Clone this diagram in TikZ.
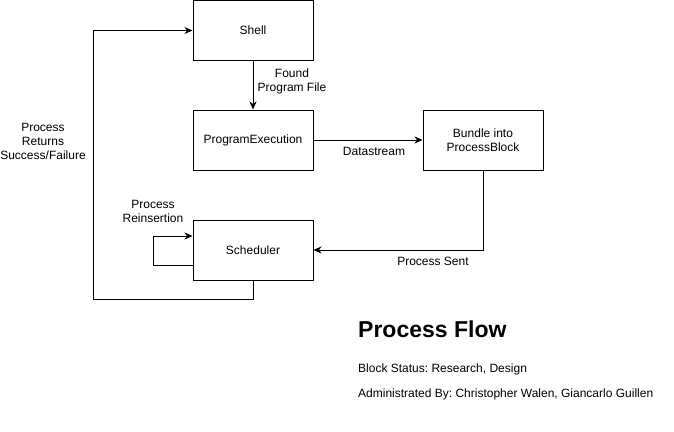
\documentclass[tikz,border=0pt]{standalone}
\usepackage{fontspec}
\setmainfont{Liberation Sans}
\usetikzlibrary{arrows.meta}
\frenchspacing
\begin{document}
\begin{tikzpicture}[x=1pt,y=-1pt,
  font=\fontsize{12}{14}\selectfont,
  blk/.style={draw,line width=1pt,minimum width=120pt,minimum height=60pt,inner sep=0pt,align=center},
  arr/.style={draw,line width=1pt,-{Stealth[length=8pt,width=7pt,inset=2.5pt]}},
  lbl/.style={align=center,inner sep=0pt}]
\useasboundingbox[fill=white] (0,0) rectangle (674,431);
\node[blk] (shell) at (253,30.5) {Shell};
\node[blk] (pe) at (253,140) {ProgramExecution};
\node[blk] (sch) at (253,250) {Scheduler};
\node[blk] (bun) at (483,140) {Bundle into\\ProcessBlock};
\coordinate (l1) at (153,265);
\coordinate (l2) at (153,236);
\coordinate (r1) at (93,299);
\coordinate (r2) at (93,30.5);
\draw[arr] (shell) -- (pe);
\draw[arr] (pe) -- (bun);
\draw[arr] (bun.south) |- (sch.east);
\draw[arr] (sch.west |- l1) -- (l1) -- (l2) -- (sch.west |- l2);
\draw[arr] (sch.south) |- (r1) -- (r2) -- (shell.west);
\node[lbl] (t1) at (292,81) {Found\\Program File};
\node[lbl] (t2) at (374,151) {Datastream};
\node[lbl] (t3) at (433,261) {Process Sent};
\node[lbl] (t4) at (153,211) {Process\\Reinsertion};
\node[lbl] (t5) at (43,141) {Process\\Returns\\Success/Failure};
\node[anchor=base west,inner sep=0pt,font=\fontsize{23}{26}\selectfont\bfseries] (title) at (358,337) {Process Flow};
\node[anchor=base west,inner sep=0pt] (st) at (358,372) {Block Status: Research, Design};
\node[anchor=base west,inner sep=0pt] (ad) at (358,397) {Administrated By: Christopher Walen, Giancarlo Guillen};
\end{tikzpicture}
\end{document}
